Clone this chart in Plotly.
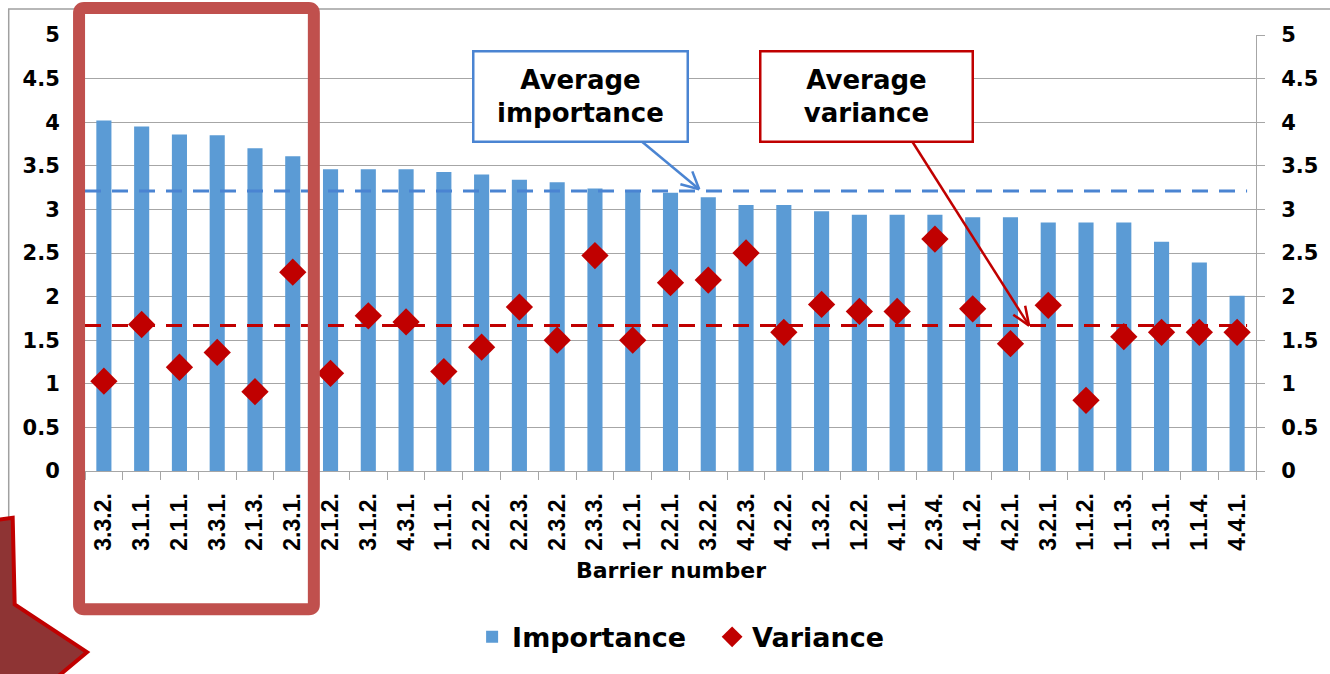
import plotly.graph_objects as go

# ---------------- data ----------------
barriers = ["3.3.2.", "3.1.1.", "2.1.1.", "3.3.1.", "2.1.3.", "2.3.1.", "2.1.2.", "3.1.2.",
            "4.3.1.", "1.1.1.", "2.2.2.", "2.2.3.", "2.3.2.", "2.3.3.", "1.2.1.", "2.2.1.",
            "3.2.2.", "4.2.3.", "4.2.2.", "1.3.2.", "1.2.2.", "4.1.1.", "2.3.4.", "4.1.2.",
            "4.2.1.", "3.2.1.", "1.1.2.", "1.1.3.", "1.3.1.", "1.1.4.", "4.4.1."]
importance = [4.02, 3.95, 3.86, 3.85, 3.70, 3.61, 3.46, 3.46, 3.46, 3.43, 3.40, 3.34,
              3.31, 3.24, 3.22, 3.19, 3.14, 3.05, 3.05, 2.98, 2.94, 2.94, 2.94, 2.91,
              2.91, 2.85, 2.85, 2.85, 2.63, 2.39, 2.01]
variance = [1.03, 1.68, 1.19, 1.36, 0.91, 2.28, 1.12, 1.78, 1.71, 1.14, 1.42, 1.88,
            1.50, 2.47, 1.50, 2.16, 2.19, 2.50, 1.59, 1.91, 1.83, 1.83, 2.66, 1.86,
            1.46, 1.90, 0.81, 1.54, 1.59, 1.59, 1.59]
avg_importance = 3.21
avg_variance = 1.67
y_ticks = [0, 0.5, 1, 1.5, 2, 2.5, 3, 3.5, 4, 4.5, 5]

# ---------------- layout geometry ----------------
W, H = 1330, 674
L, R, T, B = 85, 63, 35, 201
PW, PH = W - L - R, H - T - B


def px(x):
    return (x - L) / PW


def py(y):
    return (H - B - y) / PH


BAR_BLUE = "#5B9BD5"
LINE_BLUE = "#4A84D2"
RED = "#C00000"
GRID = "#A6A6A6"
HFONT = "DejaVu Sans"

fig = go.Figure()
fig.add_trace(go.Bar(x=barriers, y=importance, name="Importance",
                     marker=dict(color=BAR_BLUE, line=dict(width=0)), yaxis="y"))
fig.add_trace(go.Scatter(x=barriers, y=variance, name="Variance", mode="markers",
                         marker=dict(symbol="diamond", size=21, color=RED), yaxis="y2"))

shapes = []
# average lines
shapes.append(dict(type="line", xref="paper", yref="y", x0=0, x1=px(1258),
                   y0=avg_importance, y1=avg_importance,
                   line=dict(color=LINE_BLUE, width=3, dash="16px,11px"), layer="above"))
shapes.append(dict(type="line", xref="paper", yref="y", x0=0, x1=px(1258),
                   y0=avg_variance, y1=avg_variance,
                   line=dict(color=RED, width=3, dash="16px,11px"), layer="above"))

# outer chart border
shapes.append(dict(type="rect", xref="paper", yref="paper", x0=px(8), y0=py(9),
                   x1=px(1345), y1=py(700), line=dict(color="#A0A0A0", width=1.5),
                   layer="below"))


def seg(x0, y0, x1, y1, color, width):
    return dict(type="line", xref="paper", yref="paper", x0=px(x0), y0=py(y0),
                x1=px(x1), y1=py(y1), line=dict(color=color, width=width), layer="above")


# callout arrows (line + open chevron head)
shapes.append(seg(647, 142, 705, 190, LINE_BLUE, 2.5))
shapes.append(seg(705, 190, 686, 185, LINE_BLUE, 2.5))
shapes.append(seg(705, 190, 698, 172, LINE_BLUE, 2.5))
shapes.append(seg(920, 142, 1038, 327, RED, 2.5))
shapes.append(seg(1038, 327, 1022, 316, RED, 2.5))
shapes.append(seg(1038, 327, 1034, 307, RED, 2.5))


def path(points, close=True):
    s = "M " + " L ".join(f"{px(a):.5f},{py(b):.5f}" for a, b in points)
    return s + (" Z" if close else "")


# rounded red highlight box
x0b, y0b, x1b, y1b, r = 79, 8, 316, 612, 5
rb = (f"M {px(x0b + r):.5f},{py(y0b):.5f} L {px(x1b - r):.5f},{py(y0b):.5f} "
      f"Q {px(x1b):.5f},{py(y0b):.5f} {px(x1b):.5f},{py(y0b + r):.5f} "
      f"L {px(x1b):.5f},{py(y1b - r):.5f} "
      f"Q {px(x1b):.5f},{py(y1b):.5f} {px(x1b - r):.5f},{py(y1b):.5f} "
      f"L {px(x0b + r):.5f},{py(y1b):.5f} "
      f"Q {px(x0b):.5f},{py(y1b):.5f} {px(x0b):.5f},{py(y1b - r):.5f} "
      f"L {px(x0b):.5f},{py(y0b + r):.5f} "
      f"Q {px(x0b):.5f},{py(y0b):.5f} {px(x0b + r):.5f},{py(y0b):.5f} Z")
shapes.append(dict(type="path", xref="paper", yref="paper", path=rb,
                   line=dict(color="#C0504D", width=12), layer="above"))

# bottom-left arrow shape
shapes.append(dict(type="path", xref="paper", yref="paper",
                   path=path([(-10, 523), (12, 520), (14, 607), (87, 655), (45, 690), (-10, 690)]),
                   fillcolor="#8E3434", line=dict(color=RED, width=4), layer="above"))

annotations = [
    dict(xref="paper", yref="paper", x=px(585.5), y=py(96.5), xanchor="center",
         yanchor="middle", text="<b>Average<br>importance</b>", showarrow=False,
         font=dict(family=HFONT, size=26, color="black"), bgcolor="white",
         bordercolor=LINE_BLUE, borderwidth=2.5, borderpad=0, width=212, height=88),
    dict(xref="paper", yref="paper", x=px(873.5), y=py(96.5), xanchor="center",
         yanchor="middle", text="<b>Average<br>variance</b>", showarrow=False,
         font=dict(family=HFONT, size=26, color="black"), bgcolor="white",
         bordercolor=RED, borderwidth=2.5, borderpad=0, width=210, height=88),
    dict(xref="paper", yref="paper", x=px(676), y=py(573), xanchor="center",
         yanchor="middle", text="<b>Barrier number</b>", showarrow=False,
         font=dict(family=HFONT, size=22, color="black")),
]

fig.update_layout(
    width=W, height=H, autosize=False,
    margin=dict(l=L, r=R, t=T, b=B, pad=0),
    paper_bgcolor="white", plot_bgcolor="white",
    bargap=0.6,
    showlegend=True,
    legend=dict(orientation="h", x=px(718), xanchor="center", y=py(640), yanchor="middle",
                font=dict(family=HFONT, size=27, color="black", weight="bold"),
                itemsizing="trace", traceorder="normal", itemwidth=30,
                entrywidth=195, entrywidthmode="pixels",
                bgcolor="rgba(0,0,0,0)"),
    xaxis=dict(type="category", range=[-0.5, len(barriers) - 0.5], autorange=False,
               tickangle=-90, tickson="boundaries", ticks="outside",
               ticklen=8, tickcolor=GRID, showline=True, linecolor=GRID, linewidth=1,
               showgrid=False, ticklabelstandoff=12,
               tickfont=dict(family="Liberation Sans", size=23, color="black", weight="bold")),
    yaxis=dict(range=[0, 5], tickvals=y_ticks, ticks="outside", ticklen=8, tickcolor=GRID,
               showline=True, linecolor=GRID, gridcolor=GRID, gridwidth=1, zeroline=False,
               ticklabelstandoff=12,
               tickfont=dict(family=HFONT, size=21, color="black", weight="bold")),
    yaxis2=dict(range=[0, 5], tickvals=y_ticks, overlaying="y", side="right",
                ticks="outside", ticklen=8, tickcolor=GRID, showline=True, linecolor=GRID,
                showgrid=False, zeroline=False, ticklabelstandoff=12,
                tickfont=dict(family=HFONT, size=21, color="black", weight="bold")),
    shapes=shapes,
    annotations=annotations,
)

fig.write_html("out.html", config={"displayModeBar": False},
               post_script="document.body.style.margin='0';")
